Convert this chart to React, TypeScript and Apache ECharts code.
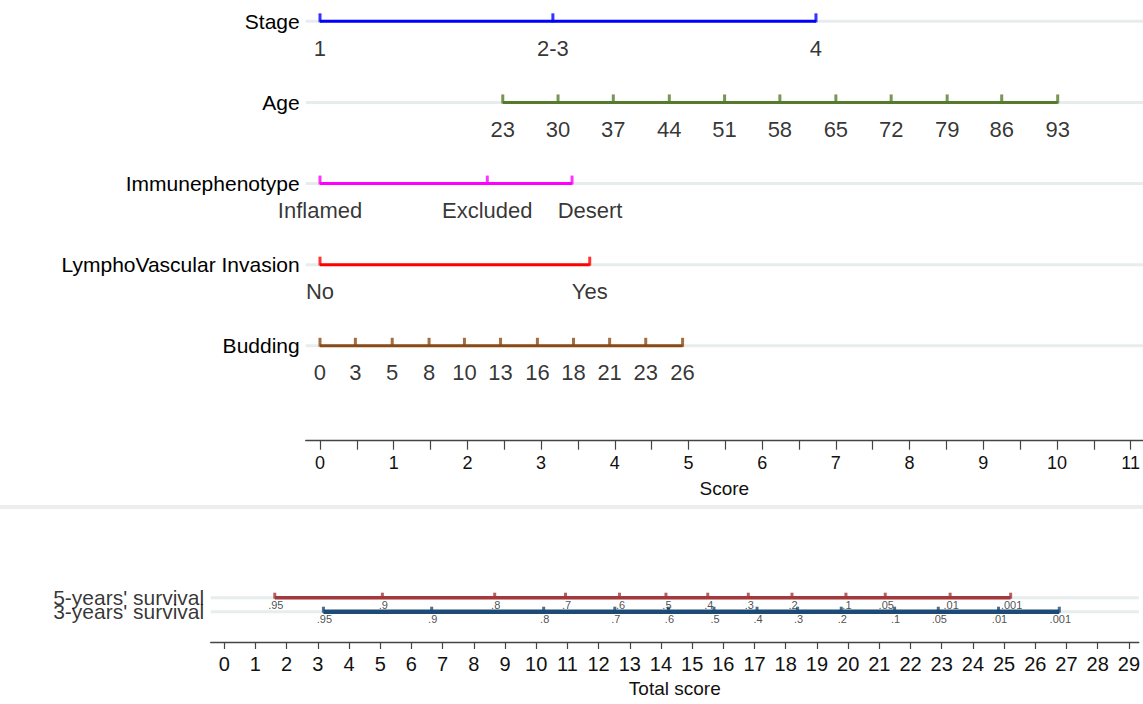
import React, { useEffect, useRef } from 'react';
import * as echarts from 'echarts';

// ---------- data ----------
const rowNames = ['Stage', 'Age', 'Immunephenotype', 'LymphoVascular Invasion', 'Budding'];

const stageLabels = ['1', '2-3', '4'];
const stageScores = [0, 3.16, 6.73];

const ageLabels = ['23', '30', '37', '44', '51', '58', '65', '72', '79', '86', '93'];
const ageScores = [2.48, 3.23, 3.98, 4.74, 5.49, 6.24, 7.0, 7.75, 8.51, 9.25, 10.01];

const immunoLabels = ['Inflamed', 'Excluded', 'Desert'];
const immunoScores = [0, 2.27, 3.42];

const lviLabels = ['No', 'Yes'];
const lviScores = [0, 3.66];

const buddingLabels = ['0', '3', '5', '8', '10', '13', '16', '18', '21', '23', '26'];
const buddingScores = [0, 0.48, 0.98, 1.48, 1.96, 2.45, 2.95, 3.44, 3.93, 4.42, 4.92];

const scoreTicks = [0, 0.5, 1, 1.5, 2, 2.5, 3, 3.5, 4, 4.5, 5, 5.5, 6, 6.5, 7, 7.5, 8, 8.5, 9, 9.5, 10, 10.5, 11];
const scoreLabels = [0, 1, 2, 3, 4, 5, 6, 7, 8, 9, 10, 11];

const survivalNames = ["5-years' survival", "3-years' survival"];
const surv5Labels = ['.95', '.9', '.8', '.7', '.6', '.5', '.4', '.3', '.2', '.1', '.05', '.01', '.001'];
const surv5Scores = [1.62, 5.07, 8.67, 10.94, 12.67, 14.16, 15.5, 16.8, 18.2, 19.93, 21.19, 23.27, 25.21];
const surv3Labels = ['.95', '.9', '.8', '.7', '.6', '.5', '.4', '.3', '.2', '.1', '.05', '.01', '.001'];
const surv3Scores = [3.18, 6.65, 10.24, 12.52, 14.24, 15.7, 17.08, 18.38, 19.78, 21.49, 22.89, 24.82, 26.77];

const totalTicks = [0, 1, 2, 3, 4, 5, 6, 7, 8, 9, 10, 11, 12, 13, 14, 15, 16, 17, 18, 19, 20, 21, 22, 23, 24, 25, 26, 27, 28, 29];

// ---------- styling ----------
const FONT = "'Liberation Sans', Arial, Helvetica, sans-serif";
const GREY_ROW = '#e7eded';
const AXIS = '#444';
const TOP_X = [-0.194, 11.167];
const BOT_X = [-0.434, 29.32];

const topRows = [
  { labels: stageLabels, scores: stageScores, color: '#0000ff' },
  { labels: ageLabels, scores: ageScores, color: '#557a2c' },
  { labels: immunoLabels, scores: immunoScores, color: '#ff00ff', shift: { Desert: 18 } as Record<string, number> },
  { labels: lviLabels, scores: lviScores, color: '#ff0000' },
  { labels: buddingLabels, scores: buddingScores, color: '#8b4a14' },
];

const survRows = [
  { labels: surv5Labels, scores: surv5Scores, color: '#a3393d', width: 3.5 },
  { labels: surv3Labels, scores: surv3Scores, color: '#1c4b75', width: 4.5 },
];

function buildOption() {
  const series: any[] = [];

  topRows.forEach((r, i) => {
    series.push({
      type: 'line', xAxisIndex: 0, yAxisIndex: 0, silent: true, z: 1,
      data: [[TOP_X[0], i], [TOP_X[1], i]], symbol: 'none',
      lineStyle: { color: GREY_ROW, width: 3 },
    });
    series.push({
      type: 'line', xAxisIndex: 0, yAxisIndex: 0, z: 3,
      data: r.scores.map((s) => [s, i]), symbol: 'none',
      lineStyle: { color: r.color, width: 3 },
    });
    series.push({
      type: 'scatter', xAxisIndex: 0, yAxisIndex: 0, z: 3,
      data: r.scores.map((s) => [s, i]), symbol: 'rect',
      symbolSize: [3, 9], symbolOffset: [0, -3.5],
      itemStyle: { color: r.color },
    });
    series.push({
      type: 'scatter', xAxisIndex: 0, yAxisIndex: 0, z: 4,
      symbolSize: 1, itemStyle: { color: 'rgba(0,0,0,0)' },
      data: r.scores.map((s, k) => ({
        value: [s, i],
        label: {
          formatter: r.labels[k],
          offset: [((r as any).shift && (r as any).shift[r.labels[k]]) || 0, 27],
        },
      })),
      label: { show: true, position: 'inside', fontSize: 22, color: '#000', fontFamily: FONT },
    });
  });

  survRows.forEach((r, i) => {
    series.push({
      type: 'line', xAxisIndex: 1, yAxisIndex: 1, silent: true, z: 1,
      data: [[BOT_X[0], i], [BOT_X[1], i]], symbol: 'none',
      lineStyle: { color: GREY_ROW, width: 3 },
    });
    series.push({
      type: 'line', xAxisIndex: 1, yAxisIndex: 1, z: 3,
      data: r.scores.map((s) => [s, i]), symbol: 'none',
      lineStyle: { color: r.color, width: r.width },
    });
    series.push({
      type: 'scatter', xAxisIndex: 1, yAxisIndex: 1, z: 3,
      data: r.scores.map((s) => [s, i]), symbol: 'rect',
      symbolSize: [3, 6], symbolOffset: [0, -2],
      itemStyle: { color: r.color },
    });
    series.push({
      type: 'scatter', xAxisIndex: 1, yAxisIndex: 1, z: 4,
      symbolSize: 1, itemStyle: { color: 'rgba(0,0,0,0)' },
      data: r.scores.map((s, k) => ({ value: [s, i], label: { formatter: r.labels[k] } })),
      label: { show: true, position: 'inside', offset: [1, 7], fontSize: 11, color: '#222', fontFamily: FONT },
    });
  });

  // survival row names, placed at the left end of each row
  series.push({
    type: 'scatter', xAxisIndex: 1, yAxisIndex: 1, z: 4, silent: true,
    symbolSize: 1, itemStyle: { color: 'rgba(0,0,0,0)' },
    data: survivalNames.map((n, i) => ({ value: [BOT_X[0], i], name: n })),
    label: {
      show: true, position: 'left', distance: 6, formatter: '{b}',
      fontSize: 21, color: '#000', fontFamily: FONT,
    },
    labelLayout: { hideOverlap: false },
  });

  return {
    animation: false,
    backgroundColor: '#ffffff',
    textStyle: { fontFamily: FONT },
    grid: [
      { left: 305.7, right: 0, top: 0, height: 440.7 },
      { left: 210.7, right: 0, top: 580, height: 62 },
    ],
    xAxis: [
      {
        type: 'value', gridIndex: 0, min: TOP_X[0], max: TOP_X[1],
        splitLine: { show: false },
        axisLine: { show: true, onZero: false, lineStyle: { color: AXIS, width: 1.3 } },
        axisTick: { show: true, length: 9, customValues: scoreTicks, lineStyle: { color: AXIS, width: 1.2 } },
        axisLabel: {
          customValues: scoreLabels, fontSize: 18, color: '#111', margin: 13, fontFamily: FONT,
        },
        name: 'Score', nameLocation: 'middle', nameGap: 38,
        nameTextStyle: { fontSize: 19, color: '#111', fontFamily: FONT },
      },
      {
        type: 'value', gridIndex: 1, min: BOT_X[0], max: BOT_X[1],
        splitLine: { show: false },
        axisLine: { show: true, onZero: false, lineStyle: { color: AXIS, width: 1.3 } },
        axisTick: { show: true, length: 7, customValues: totalTicks, lineStyle: { color: AXIS, width: 1.2 } },
        axisLabel: {
          customValues: totalTicks, fontSize: 20, color: '#111', margin: 12, fontFamily: FONT,
        },
        name: 'Total score', nameLocation: 'middle', nameGap: 37,
        nameTextStyle: { fontSize: 19, color: '#111', fontFamily: FONT },
      },
    ],
    yAxis: [
      {
        type: 'value', gridIndex: 0, inverse: true, min: -0.263, max: 5.17,
        splitLine: { show: false }, axisLine: { show: false }, axisTick: { show: false },
        axisLabel: {
          customValues: [0, 1, 2, 3, 4],
          formatter: (v: number) => rowNames[Math.round(v)] || '',
          fontSize: 21, color: '#000', margin: 6, fontFamily: FONT,
        },
      },
      {
        type: 'value', gridIndex: 1, inverse: true, min: -1.264, max: 3.164,
        splitLine: { show: false }, axisLine: { show: false }, axisTick: { show: false },
        axisLabel: { show: false },
      },
    ],
    graphic: [
      {
        type: 'line', silent: true,
        shape: { x1: 0, y1: 507, x2: 1143, y2: 507 },
        style: { stroke: '#eceeee', lineWidth: 4 },
      },
    ],
    series,
  };
}

export default function App() {
  const ref = useRef<HTMLDivElement>(null);
  useEffect(() => {
    if (!ref.current) return;
    const chart = echarts.init(ref.current, null, { renderer: 'svg' });
    chart.setOption(buildOption() as any);
    return () => chart.dispose();
  }, []);
  return (
    <div
      ref={ref}
      style={{ position: 'fixed', left: 0, top: 0, width: 1143, height: 704, background: '#fff' }}
    />
  );
}
